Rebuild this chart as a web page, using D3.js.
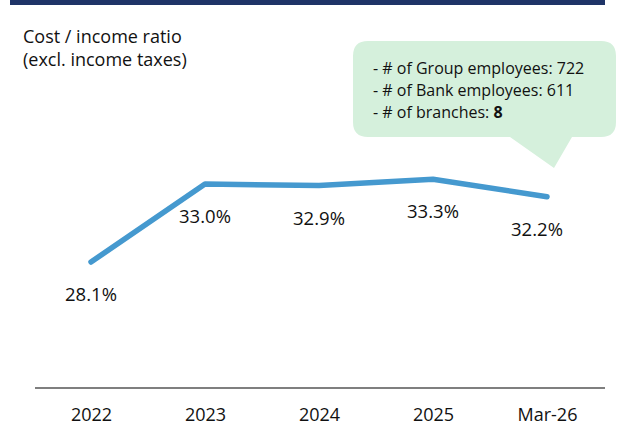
<!DOCTYPE html>
<html>
<head>
<meta charset="utf-8">
<script src="https://cdn.jsdelivr.net/npm/d3@7"></script>
<style>
    body { margin: 0; background: #fff; }
    svg { display: block; font-family: "Open Sans", "Liberation Sans", sans-serif; }
</style>
</head>
<body>
<div id="chart"></div>
<script>
const categories = ["2022", "2023", "2024", "2025", "Mar-26"];
const ratios = [28.1, 33.0, 32.9, 33.3, 32.2];
const titleLines = ["Cost / income ratio", "(excl. income taxes)"];
const noteLines = [
    { text: "- # of Group employees: ", value: "722", bold: false },
    { text: "- # of Bank employees: ", value: "611", bold: false },
    { text: "- # of branches: ", value: "8", bold: true }
];

const width = 619, height = 431;

const svg = d3.select("#chart")
    .append("svg")
    .attr("width", width)
    .attr("height", height);

// navy band across the top
svg.append("rect")
    .attr("x", 10)
    .attr("y", 0)
    .attr("width", 595)
    .attr("height", 5)
    .style("fill", "#1f3467");

const x = d3.scalePoint()
    .domain(categories)
    .range([91, 547]);

const y = d3.scaleLinear()
    .domain([28.1, 33.0])
    .range([262, 184]);

// title, two separate lines
svg.selectAll(".title")
    .data(titleLines)
    .enter().append("text")
    .attr("class", "title")
    .attr("x", 23)
    .attr("y", (d, i) => 43 + i * 23)
    .attr("font-size", "18px")
    .style("fill", "#111")
    .text(d => d);

// speech bubble
const bubble = svg.append("g");
bubble.append("path")
    .attr("d", "M368,41 H601 Q616,41 616,56 V122 Q616,137 601,137 H572 L554,168 L510,137 H368 Q353,137 353,122 V56 Q353,41 368,41 Z")
    .style("fill", "#d5f0dc");

bubble.selectAll("text")
    .data(noteLines)
    .enter().append("text")
    .attr("x", 373)
    .attr("y", (d, i) => 74 + i * 22)
    .attr("font-size", "16px")
    .style("fill", "#111")
    .each(function(d) {
        const t = d3.select(this);
        t.append("tspan").text(d.text);
        t.append("tspan").attr("font-weight", d.bold ? "bold" : "normal").text(d.value);
    });

// axis line
svg.append("line")
    .attr("x1", 35)
    .attr("x2", 605)
    .attr("y1", 388)
    .attr("y2", 388)
    .style("stroke", "#555")
    .style("stroke-width", 1.3);

const xAxis = svg.append("g")
    .attr("transform", "translate(0,388)")
    .call(d3.axisBottom(x).tickSize(0).tickPadding(20));
xAxis.select(".domain").remove();
xAxis.selectAll("text")
    .attr("font-size", "18px")
    .attr("font-family", "\"Open Sans\", \"Liberation Sans\", sans-serif")
    .style("fill", "#111");

const line = d3.line()
    .x((d, i) => x(categories[i]))
    .y(d => y(d));

svg.append("path")
    .datum(ratios)
    .attr("d", line)
    .style("fill", "none")
    .style("stroke", "#4599cf")
    .style("stroke-width", 5.5)
    .style("stroke-linecap", "round")
    .style("stroke-linejoin", "round");

// value labels under each point (last one nudged left)
svg.selectAll(".val")
    .data(ratios)
    .enter().append("text")
    .attr("class", "val")
    .attr("x", (d, i) => x(categories[i]) + (i === ratios.length - 1 ? -10 : 0))
    .attr("y", d => y(d) + 39)
    .attr("text-anchor", "middle")
    .attr("font-size", "18.5px")
    .style("fill", "#111")
    .text(d => d.toFixed(1) + "%");
</script>
</body>
</html>
